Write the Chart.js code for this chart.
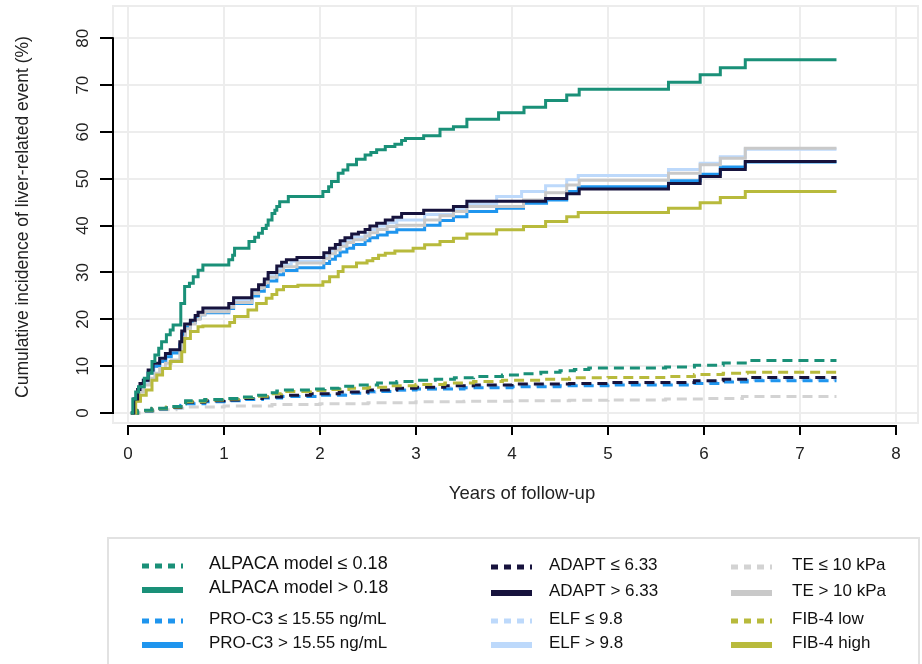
<!DOCTYPE html>
<html>
<head>
<meta charset="utf-8">
<script src="https://cdn.jsdelivr.net/npm/chart.js@4.4.1/dist/chart.umd.min.js"></script>
<style>
  html, body { margin: 0; padding: 0; background: #fff; }
  #wrap { width: 922px; height: 664px; position: relative; }
</style>
</head>
<body>
<div id="wrap"><canvas id="kmChart" width="922" height="664"></canvas></div>
<script>
// axis ticks
const xTicks = [0, 1, 2, 3, 4, 5, 6, 7, 8];
const yTicks = [0, 10, 20, 30, 40, 50, 60, 70, 80];

// cumulative incidence steps: [years, %]
const alpacaLow = [[0.03,0],[0.1,0.6],[0.25,1.0],[0.4,1.4],[0.55,2.0],[0.6,2.6],[0.8,2.9],[1.0,3.1],[1.15,3.4],[1.3,3.8],[1.45,4.3],[1.55,4.7],[1.62,4.9],[1.9,5.1],[2.05,5.3],[2.2,5.7],[2.4,6.0],[2.6,6.4],[2.8,6.7],[3.0,7.0],[3.2,7.2],[3.4,7.5],[3.6,7.8],[3.9,8.1],[4.1,8.4],[4.3,8.7],[4.5,9.0],[4.65,9.3],[4.8,9.6],[5.6,9.8],[5.9,10.2],[6.2,10.7],[6.45,11.2],[7.38,11.2]];
const alpacaHigh = [[0.03,0],[0.05,3],[0.08,4.5],[0.11,5.6],[0.17,7.4],[0.21,8.5],[0.25,11],[0.28,12.4],[0.32,13.8],[0.35,15.2],[0.40,16.7],[0.44,17.7],[0.47,18.8],[0.55,23.4],[0.59,27],[0.64,27.7],[0.68,29.1],[0.73,30.5],[0.78,31.6],[1.05,32.7],[1.09,33.7],[1.11,35.2],[1.26,36.6],[1.32,37.5],[1.36,38.4],[1.40,39.4],[1.44,40.1],[1.46,41.2],[1.50,42.6],[1.53,43.3],[1.55,44.1],[1.58,45.1],[1.67,46.2],[2.03,47.3],[2.09,48.3],[2.12,49.4],[2.19,51.2],[2.24,51.9],[2.29,53],[2.38,54.2],[2.47,55.1],[2.53,55.6],[2.59,56.2],[2.68,56.9],[2.78,57.4],[2.85,58.2],[2.89,58.6],[3.08,59.2],[3.25,60.6],[3.39,61.1],[3.53,62.7],[3.86,64.1],[4.125,65.3],[4.35,66.7],[4.57,67.9],[4.70,69.1],[5.63,70.6],[5.96,72.2],[6.17,73.7],[6.43,75.4],[7.38,75.4]];
const proc3Low = [[0.03,0],[0.1,0.4],[0.25,0.8],[0.4,1.1],[0.55,1.6],[0.6,2.0],[0.8,2.4],[1.0,2.6],[1.2,2.9],[1.4,3.2],[1.6,3.5],[2.0,3.8],[2.3,4.2],[2.5,4.6],[2.8,4.9],[3.0,5.1],[3.5,5.4],[4.0,5.6],[4.5,5.8],[5.0,6.0],[5.9,6.3],[6.2,6.6],[6.45,6.9],[7.38,6.9]];
const proc3High = [[0.03,0],[0.07,3],[0.11,5.5],[0.16,7],[0.21,8.6],[0.26,10],[0.33,11],[0.39,12],[0.45,12.8],[0.54,14.5],[0.56,16.8],[0.59,18.3],[0.65,19.3],[0.70,20.2],[0.75,21],[0.80,21.4],[1.05,22.3],[1.10,23.4],[1.29,25],[1.36,26],[1.42,27],[1.46,28.2],[1.55,29.5],[1.62,30.4],[1.76,31],[2.04,31.9],[2.10,32.8],[2.16,33.6],[2.21,34.4],[2.28,35.2],[2.35,36],[2.47,36.8],[2.52,37.4],[2.60,38],[2.70,38.6],[2.80,39.1],[3.09,40.1],[3.25,41.1],[3.39,41.9],[3.53,43],[3.84,43.7],[4.12,44.8],[4.36,45.5],[4.57,47.3],[4.69,48.3],[5.63,49.6],[5.96,51],[6.17,52.5],[6.43,53.6],[7.38,53.6]];
const adaptLow = [[0.03,0],[0.1,0.5],[0.25,0.9],[0.4,1.2],[0.55,1.8],[0.6,2.3],[0.8,2.6],[1.0,2.8],[1.2,3.1],[1.4,3.4],[1.6,3.8],[1.9,4.1],[2.2,4.5],[2.5,4.9],[2.8,5.3],[3.0,5.5],[3.3,5.8],[3.6,6.0],[4.0,6.2],[4.6,6.3],[5.0,6.5],[5.9,6.9],[6.2,7.2],[6.45,7.6],[7.38,7.6]];
const adaptHigh = [[0.03,0],[0.06,3],[0.10,5],[0.125,6.3],[0.16,7],[0.21,9.2],[0.26,10.6],[0.33,11.7],[0.39,12.7],[0.44,13.5],[0.54,15.2],[0.56,17.5],[0.59,19],[0.65,19.8],[0.70,20.8],[0.73,21.5],[0.78,22.4],[1.05,23.4],[1.10,24.6],[1.29,26.3],[1.36,27.4],[1.42,28.6],[1.46,30],[1.55,31.4],[1.60,32.2],[1.65,32.7],[1.76,33.2],[2.04,34.2],[2.10,35.2],[2.16,36],[2.21,36.8],[2.26,37.4],[2.33,38.2],[2.40,38.6],[2.47,39.2],[2.52,39.9],[2.59,40.5],[2.68,41.2],[2.76,41.8],[2.85,42.6],[3.08,43.3],[3.39,44.1],[3.53,45.2],[4.35,45.8],[4.57,46.8],[4.70,47.8],[5.63,49],[5.96,50.5],[6.17,52],[6.43,53.7],[7.38,53.7]];
const elfLow = [[0.03,0],[0.1,0.4],[0.25,0.8],[0.4,1.2],[0.55,1.7],[0.6,2.2],[0.8,2.5],[1.0,2.7],[1.2,3.0],[1.4,3.3],[1.6,3.6],[2.0,4.0],[2.3,4.4],[2.6,4.8],[2.9,5.1],[3.2,5.4],[3.6,5.7],[4.0,5.9],[4.6,6.1],[5.0,6.3],[5.9,6.6],[6.2,6.9],[6.45,7.2],[7.38,7.2]];
const elfHigh = [[0.03,0],[0.07,3],[0.11,5],[0.16,6.5],[0.22,8.5],[0.27,10],[0.33,11],[0.40,12.2],[0.45,13],[0.54,14.8],[0.56,17],[0.59,18.6],[0.65,19.6],[0.70,20.6],[0.75,21.4],[0.80,22],[1.05,23],[1.10,24.2],[1.29,26],[1.36,27],[1.42,28.2],[1.46,29.5],[1.55,30.8],[1.60,31.7],[1.70,32.4],[2.04,33.5],[2.10,34.6],[2.16,35.4],[2.21,36.2],[2.28,36.9],[2.35,37.6],[2.47,38.4],[2.52,39.2],[2.60,39.9],[2.70,40.6],[2.80,41.2],[3.09,42.4],[3.39,43.5],[3.53,44.6],[3.84,46.2],[4.10,47.3],[4.35,48.5],[4.57,49.8],[4.69,50.7],[5.63,52],[5.96,53.3],[6.17,54.7],[6.43,56.3],[7.38,56.3]];
const teLow = [[0.03,0],[0.15,0.4],[0.3,0.7],[0.5,1.0],[0.6,1.3],[1.0,1.5],[1.5,1.8],[2.0,2.0],[2.5,2.2],[3.0,2.4],[3.5,2.5],[4.0,2.6],[4.6,2.7],[5.0,2.8],[5.6,3.0],[6.0,3.1],[6.4,3.5],[7.38,3.5]];
const teHigh = [[0.03,0],[0.07,2.5],[0.12,4.5],[0.16,6],[0.23,7.4],[0.28,8.5],[0.33,9.5],[0.39,10.6],[0.45,11.3],[0.54,13.5],[0.57,16],[0.60,18],[0.65,19],[0.70,20],[0.75,21],[0.80,21.6],[1.05,22.6],[1.10,23.6],[1.29,25.5],[1.36,26.7],[1.42,27.8],[1.46,29],[1.55,30.3],[1.62,31.2],[1.76,32],[2.04,33],[2.10,34],[2.16,34.8],[2.21,35.6],[2.28,36.4],[2.35,37],[2.47,37.8],[2.52,38.5],[2.60,39.2],[2.70,39.8],[2.80,40.1],[3.09,41.2],[3.25,42.1],[3.39,43],[3.53,44.1],[4.12,45.5],[4.35,47],[4.57,48.7],[4.70,49.7],[5.63,51.2],[5.96,53],[6.17,54.4],[6.43,56.5],[7.38,56.5]];
const fib4Low = [[0.03,0],[0.1,0.5],[0.25,0.9],[0.4,1.3],[0.55,1.9],[0.6,2.4],[0.8,2.8],[1.0,3.0],[1.15,3.3],[1.3,3.6],[1.45,4.1],[1.6,4.6],[1.9,4.8],[2.1,5.0],[2.3,5.3],[2.5,5.5],[2.7,5.8],[3.0,6.1],[3.3,6.4],[3.6,6.7],[3.9,7.0],[4.3,7.2],[4.6,7.5],[5.0,7.6],[5.6,7.8],[5.9,8.2],[6.2,8.5],[6.45,8.7],[7.38,8.7]];
const fib4High = [[0.03,0],[0.08,2.5],[0.13,3.8],[0.19,4.9],[0.25,7],[0.30,8.1],[0.36,9.5],[0.44,11],[0.56,13.1],[0.59,15.9],[0.65,17.4],[0.73,18.4],[0.78,18.6],[1.06,19.3],[1.11,20.6],[1.25,22],[1.34,23.4],[1.44,24.5],[1.50,25.3],[1.55,26.3],[1.62,27],[1.77,27.3],[2.03,28],[2.10,29.1],[2.19,30.2],[2.24,31.2],[2.38,32],[2.49,32.5],[2.55,33],[2.61,33.7],[2.68,34.1],[2.78,34.6],[2.97,35.2],[3.09,35.9],[3.25,36.6],[3.39,37.3],[3.53,38.2],[3.84,39.1],[4.12,39.8],[4.35,40.9],[4.57,41.9],[4.69,42.8],[5.63,43.7],[5.96,44.9],[6.17,46],[6.43,47.3],[7.38,47.3]];

const FONT = '"Liberation Sans", Arial, sans-serif';

function makeDataset(label, pts, color, dashed, order) {
  return {
    label: label,
    data: pts.map(p => ({ x: p[0], y: p[1] })),
    borderColor: color,
    backgroundColor: color,
    borderWidth: 3,
    borderDash: dashed ? [10, 6] : [],
    borderCapStyle: 'butt',
    stepped: 'before',
    pointRadius: 0,
    fill: false,
    order: order,
    dashed: dashed
  };
}

// legend order = column by column
const datasets = [
  makeDataset('ALPACA model \u2264 0.18', alpacaLow, '#1a9078', true, 6),
  makeDataset('ALPACA model > 0.18', alpacaHigh, '#1a9078', false, 0),
  makeDataset('PRO-C3 \u2264 15.55 ng/mL', proc3Low, '#1f95ee', true, 9),
  makeDataset('PRO-C3 > 15.55 ng/mL', proc3High, '#1f95ee', false, 4),
  makeDataset('ADAPT \u2264 6.33', adaptLow, '#17133d', true, 8),
  makeDataset('ADAPT > 6.33', adaptHigh, '#17133d', false, 1),
  makeDataset('ELF \u2264 9.8', elfLow, '#bdd9fb', true, 10),
  makeDataset('ELF > 9.8', elfHigh, '#bdd9fb', false, 5),
  makeDataset('TE \u2264 10 kPa', teLow, '#d3d3d3', true, 11),
  makeDataset('TE > 10 kPa', teHigh, '#c9c9c9', false, 3),
  makeDataset('FIB-4 low', fib4Low, '#b8ba3c', true, 7),
  makeDataset('FIB-4 high', fib4High, '#b8ba3c', false, 2)
];

// panel border, offset axes, tick labels and titles
const axesPlugin = {
  id: 'axesPlugin',
  beforeDatasetsDraw(chart) {
    const { ctx, chartArea: a } = chart;
    ctx.save();
    ctx.strokeStyle = '#ececec';
    ctx.lineWidth = 2;
    ctx.strokeRect(a.left, a.top, a.right - a.left, a.bottom - a.top);
    ctx.restore();
  },
  afterDatasetsDraw(chart) {
    const { ctx, chartArea: a, scales: { x, y } } = chart;
    ctx.save();
    ctx.strokeStyle = '#000';
    ctx.lineWidth = 2;
    ctx.lineCap = 'butt';

    // y axis on the panel's left edge
    const ax = a.left;
    ctx.beginPath();
    ctx.moveTo(ax, y.getPixelForValue(yTicks[0]) + 1);
    ctx.lineTo(ax, y.getPixelForValue(yTicks[yTicks.length - 1]) - 1);
    yTicks.forEach(v => {
      const py = Math.round(y.getPixelForValue(v));
      ctx.moveTo(ax, py);
      ctx.lineTo(ax - 13, py);
    });
    ctx.stroke();

    // x axis just below the panel
    const ay = a.bottom + 3;
    ctx.beginPath();
    ctx.moveTo(x.getPixelForValue(xTicks[0]) - 1, ay);
    ctx.lineTo(x.getPixelForValue(xTicks[xTicks.length - 1]) + 1, ay);
    xTicks.forEach(v => {
      const px = Math.round(x.getPixelForValue(v));
      ctx.moveTo(px, ay);
      ctx.lineTo(px, ay + 9);
    });
    ctx.stroke();

    ctx.fillStyle = '#222';
    ctx.font = '17px ' + FONT;
    ctx.textAlign = 'center';
    ctx.textBaseline = 'middle';
    xTicks.forEach(v => {
      ctx.fillText(String(v), x.getPixelForValue(v), ay + 28);
    });
    yTicks.forEach(v => {
      ctx.save();
      ctx.translate(ax - 30, y.getPixelForValue(v));
      ctx.rotate(-Math.PI / 2);
      ctx.fillText(String(v), 0, 0);
      ctx.restore();
    });

    ctx.font = '18.5px ' + FONT;
    ctx.fillText('Years of follow-up', 522, 494);
    ctx.font = '17.5px ' + FONT;
    ctx.save();
    ctx.translate(23, 217);
    ctx.rotate(-Math.PI / 2);
    ctx.fillText('Cumulative incidence of liver-related event (%)', 0, 0);
    ctx.restore();
    ctx.restore();
  }
};

// boxed three-column legend under the plot
const legendPlugin = {
  id: 'boxLegend',
  afterDraw(chart) {
    const ctx = chart.ctx;
    const symX = [142, 491, 731];
    const textX = [209, 549, 792];
    const rowY = [[564, 588, 619, 643], [565, 591, 619, 643], [565, 591, 619, 643]];
    ctx.save();
    ctx.strokeStyle = '#e2e2e2';
    ctx.lineWidth = 2;
    ctx.strokeRect(108, 538, 811, 140);

    chart.data.datasets.forEach((ds, i) => {
      const col = Math.floor(i / 4);
      const row = i % 4;
      const yy = rowY[col][row];
      ctx.strokeStyle = ds.borderColor;
      ctx.lineCap = 'butt';
      ctx.beginPath();
      if (ds.dashed) {
        ctx.lineWidth = 5;
        ctx.setLineDash([7, 6]);
      } else {
        ctx.lineWidth = 6;
        ctx.setLineDash([]);
      }
      ctx.moveTo(symX[col], yy + 2);
      ctx.lineTo(symX[col] + 41, yy + 2);
      ctx.stroke();
      ctx.setLineDash([]);

      ctx.fillStyle = '#111';
      ctx.font = (col === 0 && row < 2 ? '18px ' : '17px ') + FONT;
      ctx.textAlign = 'left';
      ctx.textBaseline = 'middle';
      ctx.fillText(ds.label, textX[col], yy);
    });
    ctx.restore();
  }
};

const X_MIN = -15 / 96, X_MAX = 8 + 22 / 96;
const Y_MIN = -10 / 4.684, Y_MAX = 80 + 32.3 / 4.684;

new Chart(document.getElementById('kmChart'), {
  type: 'line',
  data: { datasets: datasets },
  options: {
    responsive: false,
    animation: false,
    devicePixelRatio: 1,
    layout: { padding: { left: 113, right: 4, top: 6, bottom: 241 } },
    scales: {
      x: {
        type: 'linear', min: X_MIN, max: X_MAX,
        grid: { color: '#ededed', lineWidth: 2, drawTicks: false },
        border: { display: false },
        ticks: { display: false },
        afterBuildTicks: s => { s.ticks = xTicks.map(v => ({ value: v })); }
      },
      y: {
        type: 'linear', min: Y_MIN, max: Y_MAX,
        grid: { color: '#ededed', lineWidth: 2, drawTicks: false },
        border: { display: false },
        ticks: { display: false },
        afterBuildTicks: s => { s.ticks = yTicks.map(v => ({ value: v })); }
      }
    },
    plugins: {
      legend: { display: false },
      tooltip: { enabled: false }
    }
  },
  plugins: [axesPlugin, legendPlugin]
});
</script>
</body>
</html>
